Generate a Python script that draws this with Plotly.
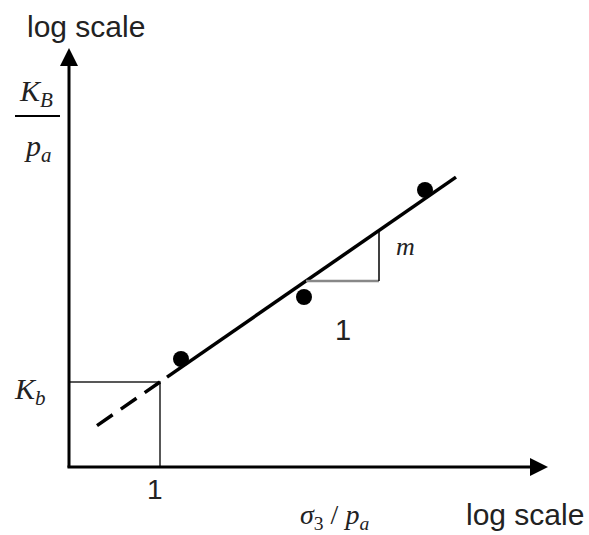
import plotly.graph_objects as go

# schematic: log(K_B/p_a) vs log(sigma_3/p_a), units of 1 = 100 px
point_x = [1.13, 2.36, 3.57]
point_y = [1.08, 1.70, 2.77]

ref_x = 0.92          # sigma_3/p_a = 1
k_b = 0.85            # intercept K_b
slope = 0.692         # exponent m (drawn slope)
fit_x = [ref_x + 0.07, 3.88]
dash_x = [0.29, ref_x]
tri_x = [2.38, 3.11]
tri_y = 1.86

axis_x_end = 4.80
axis_y_end = 4.19

def fit(xs):
    return [k_b + slope * (x - ref_x) for x in xs]

serif = "Liberation Serif, Times New Roman, serif"
sans = "Liberation Sans, Arial, sans-serif"

fig = go.Figure()

# K_b box
fig.add_trace(go.Scatter(x=[0, ref_x, ref_x], y=[k_b, k_b, 0], mode="lines",
                         line=dict(color="#222", width=1.5)))
# fitted line (dashed extrapolation + solid)
fig.add_trace(go.Scatter(x=dash_x, y=fit(dash_x), mode="lines",
                         line=dict(color="black", width=3.5, dash="19px,10px")))
fig.add_trace(go.Scatter(x=fit_x, y=fit(fit_x), mode="lines",
                         line=dict(color="black", width=3.5)))
# slope triangle
fig.add_trace(go.Scatter(x=tri_x, y=[tri_y, tri_y], mode="lines",
                         line=dict(color="#888", width=2.5)))
fig.add_trace(go.Scatter(x=[tri_x[1], tri_x[1]], y=[tri_y, fit([tri_x[1]])[0]], mode="lines",
                         line=dict(color="black", width=1.5)))
# data points
fig.add_trace(go.Scatter(x=point_x, y=point_y, mode="markers",
                         marker=dict(color="black", size=16)))

ann = []
# axes with arrows
ann.append(dict(x=axis_x_end, y=0, ax=-0.02, ay=0, xref="x", yref="y", axref="x", ayref="y",
                showarrow=True, arrowhead=2, arrowsize=1.2, arrowwidth=3, arrowcolor="black", text=""))
ann.append(dict(x=0.01, y=axis_y_end, ax=0.01, ay=-0.02, xref="x", yref="y", axref="x", ayref="y",
                showarrow=True, arrowhead=2, arrowsize=1.2, arrowwidth=3, arrowcolor="black", text=""))

def label(x, y, text, font, size, color="#222"):
    ann.append(dict(x=x, y=y, xref="x", yref="y", text=text, showarrow=False,
                    font=dict(family=font, size=size, color=color)))

label(0.18, 4.41, "log scale", sans, 30)
label(4.57, -0.47, "log scale", sans, 30)
label(0.87, -0.22, "1", sans, 28)
label(2.75, 1.37, "1", sans, 29)
label(3.37, 2.21, "<i>m</i>", serif, 26)
label(2.66, -0.49, "<i>σ</i><sub>3</sub> / <i>p</i><sub><i>a</i></sub>", serif, 28)
label(-0.38, 0.76, "<i>K</i><sub><i>b</i></sub>", serif, 30)
label(-0.32, 3.74, "<i>K</i><sub><i>B</i></sub>", serif, 30)
label(-0.30, 3.19, "<i>p</i><sub><i>a</i></sub>", serif, 30)
fig.add_shape(type="line", x0=-0.53, x1=-0.08, y0=3.51, y1=3.51,
              xref="x", yref="y", line=dict(color="black", width=2))

fig.update_layout(
    width=589, height=535,
    margin=dict(l=0, r=0, t=0, b=0, pad=0, autoexpand=False),
    paper_bgcolor="white", plot_bgcolor="white",
    showlegend=False,
    annotations=ann,
    xaxis=dict(range=[-0.68, 5.21], visible=False, fixedrange=True),
    yaxis=dict(range=[-0.68, 4.67], visible=False, fixedrange=True),
)

fig.write_html("out.html", config={"displayModeBar": False},
               post_script="document.body.style.margin='0';document.body.style.overflow='hidden';")
